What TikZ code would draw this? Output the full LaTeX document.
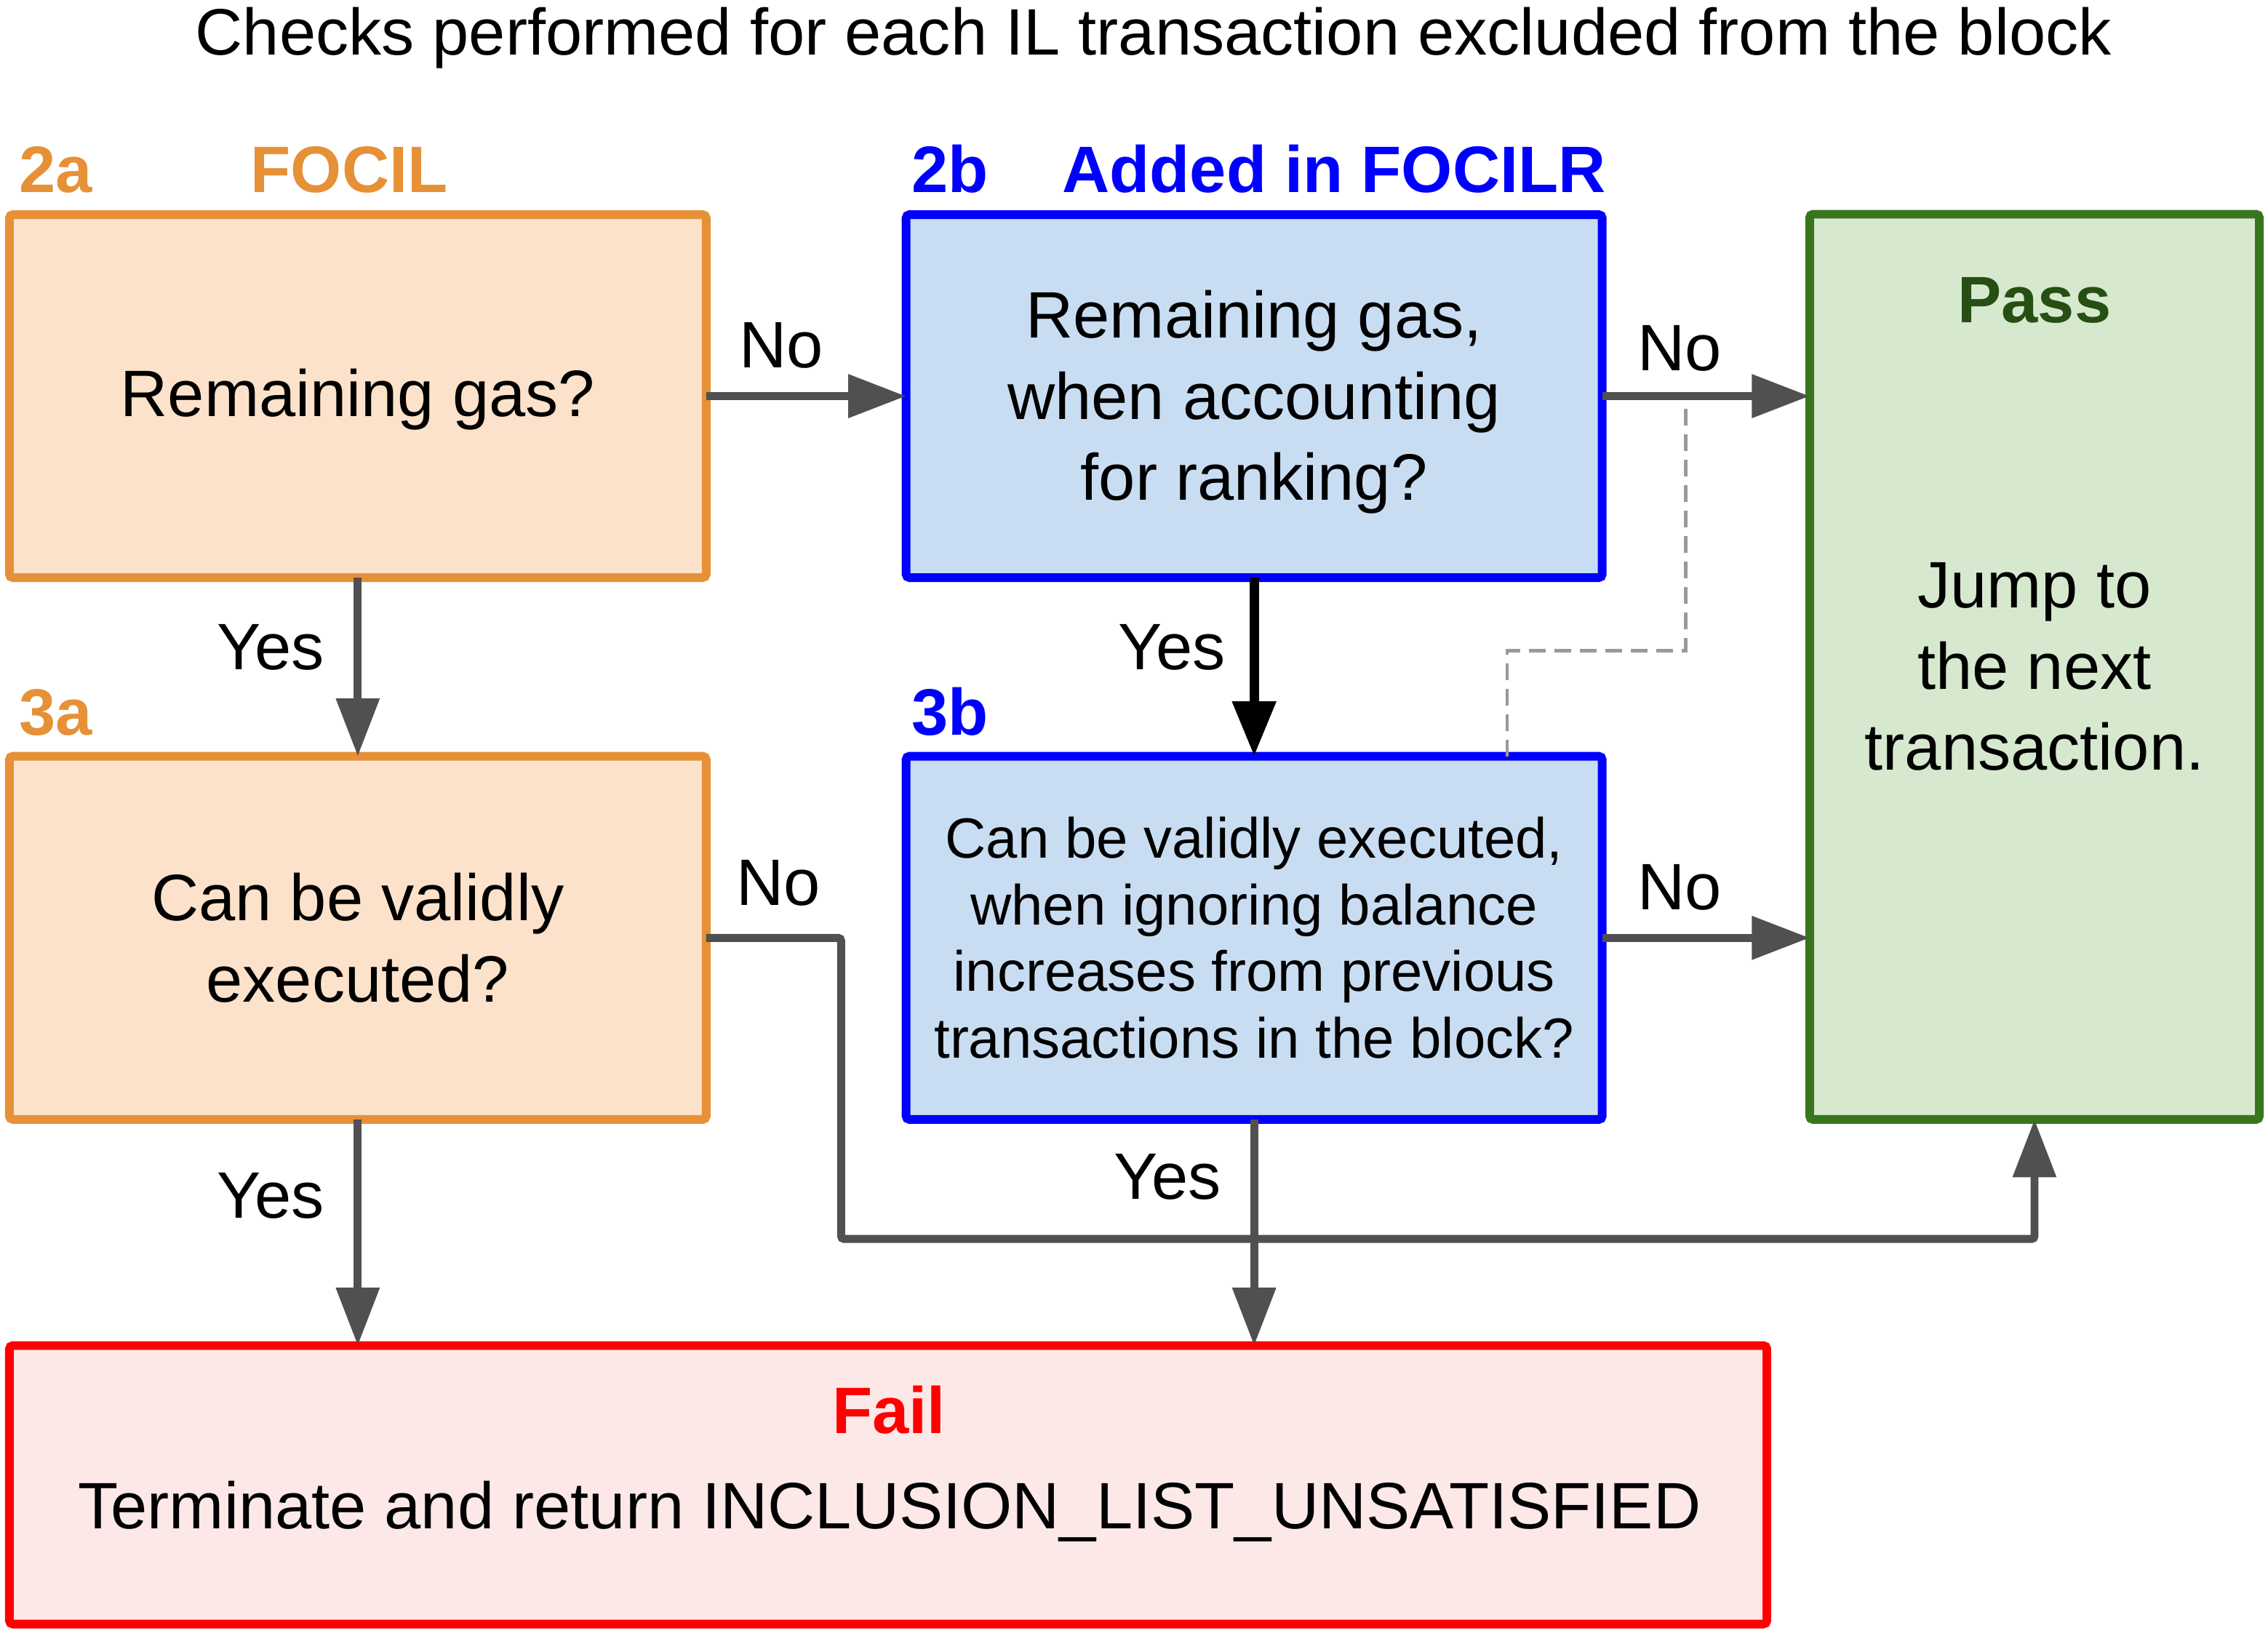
\documentclass[tikz,border=0pt]{standalone}
\usepackage{fontspec}
\setmainfont{Liberation Sans}
\usetikzlibrary{arrows.meta}
\definecolor{orb}{HTML}{E69138}
\definecolor{orf}{HTML}{FCE2CA}
\definecolor{blb}{HTML}{0000FF}
\definecolor{blf}{HTML}{C9DDF2}
\definecolor{grb}{HTML}{38761D}
\definecolor{grf}{HTML}{D6E8CE}
\definecolor{grt}{HTML}{274E13}
\definecolor{rdb}{HTML}{FF0000}
\definecolor{rdf}{HTML}{FDE8E8}
\definecolor{arrgray}{HTML}{505050}
\definecolor{dashgray}{HTML}{999999}
\tikzset{
  bigfont/.style={font=\fontsize{22.7}{28}\selectfont},
  box/.style={draw, line width=3pt, rounded corners=1.2pt, inner sep=0pt, outer sep=0pt, align=center, bigfont},
  boxA/.style={box, draw=orb, fill=orf, minimum width=240.85pt},
  boxB/.style={box, draw=blb, fill=blf, minimum width=240.65pt},
  txt/.style={inner sep=0pt, anchor=base, bigfont},
  btxt/.style={inner sep=0pt, align=center, bigfont},
  lbl/.style={inner sep=0pt, anchor=base west, font=\fontsize{22.7}{28}\selectfont\bfseries},
  arr/.style={draw=arrgray, line width=2.75pt, -{Triangle[length=20pt,width=14.5pt]}},
  arrblack/.style={draw=black, line width=3.2pt, -{Triangle[length=19pt,width=14.5pt]}},
  dashline/.style={draw=dashgray, line width=1.2pt, dash pattern=on 5.8pt off 3pt}
}
\begin{document}
\begin{tikzpicture}[x=0.5pt,y=-0.5pt]
\useasboundingbox[fill=white] (0,0) rectangle (1568,1130.5);

% title
\node[txt] (title) at (797.5,38) {Checks performed for each IL transaction excluded from the block};

% boxes
\node[boxA, minimum height=125.45pt] (a2) at (247.35,273.85) {};
\node[btxt] (ta2) at (247.35,276) {Remaining gas?};
\node[boxB, minimum height=125.45pt] (b2) at (867.05,273.85) {};
\node[btxt] (tb2) at (867.05,278) {Remaining gas,\\when accounting\\for ranking?};
\node[boxA, minimum height=125.55pt] (a3) at (247.35,648.35) {Can be validly\\executed?};
\node[boxB, minimum height=125.55pt, font=\fontsize{19.6}{23}\selectfont] (b3) at (867.05,648.35)
  {Can be validly executed,\\when ignoring balance\\increases from previous\\transactions in the block?};
\node[box, draw=grb, fill=grf, minimum width=155.45pt, minimum height=312.9pt] (pass) at (1406.55,461)
  {Jump to\\the next\\transaction.};
\node[box, draw=rdb, fill=rdf, minimum width=607.5pt, minimum height=96.25pt] (fail) at (614,1026.45) {};

% headings
\node[lbl, text=orb] (l2a) at (13,133) {2a};
\node[lbl, text=orb, anchor=base] (lfocil) at (241.5,133) {FOCIL};
\node[lbl, text=blb] (l2b) at (630,133) {2b};
\node[lbl, text=blb] (ladded) at (734,133) {Added in FOCILR};
\node[lbl, text=orb] (l3a) at (13,508) {3a};
\node[lbl, text=blb] (l3b) at (630,508) {3b};
\node[lbl, text=grt, anchor=base] (lpass) at (1406.5,223) {Pass};
\node[lbl, text=rdb, anchor=base] (lfail) at (614.5,991) {Fail};
\node[txt] (term) at (615,1057) {Terminate and return INCLUSION\_LIST\_UNSATISFIED};

% dashed connector
\coordinate (d1) at (1165.5,450);
\draw[dashline] ([xshift=-32.85pt]b3.north east) |- (d1) -- (d1 |- b2.east);

% connectors
\draw[arr] (a2.east) -- (b2.west);
\draw[arr] (b2.east) -- (b2.east -| pass.west);
\draw[arr] (b3.east) -- (b3.east -| pass.west);
\draw[arr] (a2.south) -- (a3.north);
\draw[arrblack] (b2.south) -- (b3.north);
\draw[arr] (a3.south) -- (a3.south |- fail.north);
\draw[arr] (b3.south) -- (b3.south |- fail.north);
\coordinate (c1) at (581.5,856.5);
\draw[arr, rounded corners=1pt] (a3.east) -| (c1) -| (pass.south);

% connector labels
\node[txt] (no1) at (540,254) {No};
\node[txt] (no2) at (1161,256) {No};
\node[txt] (no3) at (1161,629) {No};
\node[txt] (no4) at (538,626) {No};
\node[txt] (yes1) at (187,463) {Yes};
\node[txt] (yes2) at (810,463) {Yes};
\node[txt] (yes3) at (187,842) {Yes};
\node[txt] (yes4) at (807,829) {Yes};
\end{tikzpicture}
\end{document}
